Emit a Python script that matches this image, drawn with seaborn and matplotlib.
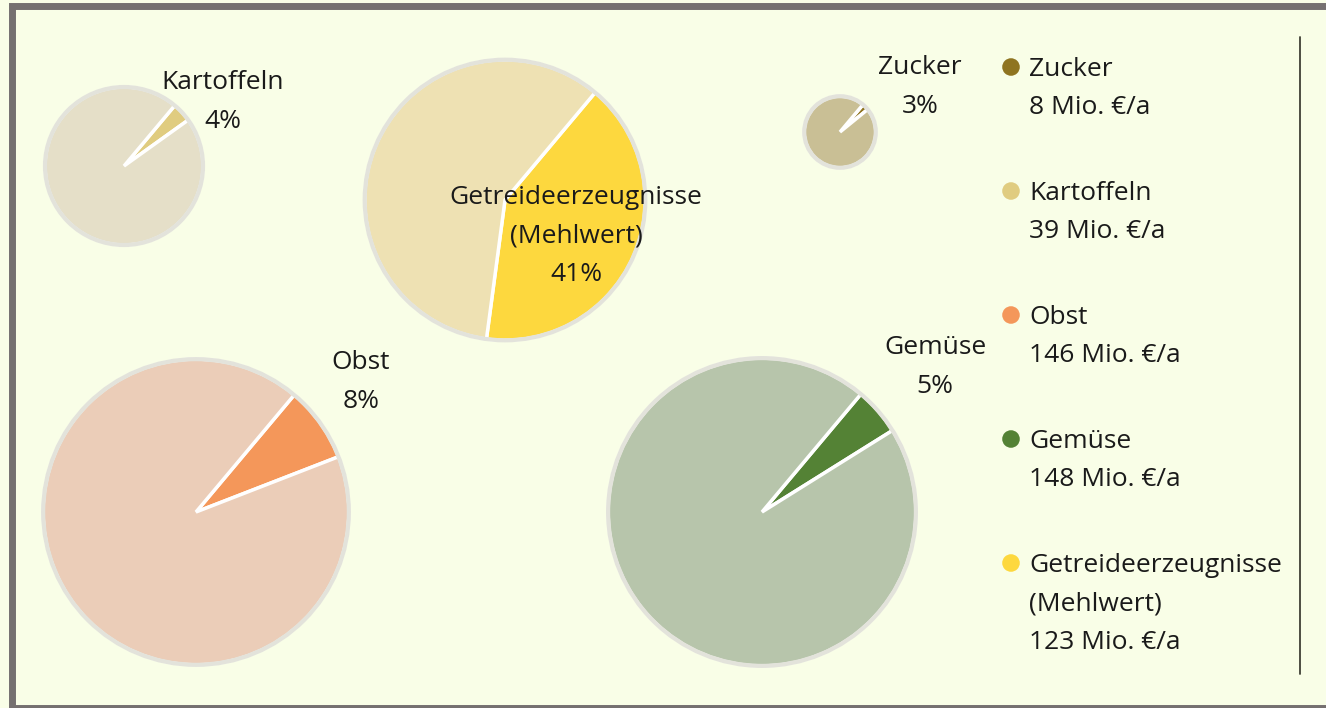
import numpy as np
import matplotlib.pyplot as plt
import seaborn as sns
from matplotlib.patches import Circle, Rectangle

# --- Data ---
categories = ["Zucker", "Kartoffeln", "Obst", "Gemüse", "Getreideerzeugnisse\n(Mehlwert)"]
shares = [3, 4, 8, 5, 41]            # share shown as wedge (%)
totals = [8, 39, 146, 148, 123]      # Mio. €/a, pie area

share_colors = ["#8f7420", "#e0cc80", "#f4975a", "#548235", "#fdd83e"]
rest_colors = ["#c9bf95", "#e5dfc8", "#ebcdb8", "#b7c5ab", "#eee1b3"]

# --- Layout (pixel coordinates, y from top) ---
W, H = 1326, 708
pie_centers = [(840, 132), (124, 166), (196, 512), (762, 512), (505, 200)]
label_pos = [(920, 87), (223, 102), (361, 382), (935, 367), (576, 236)]
scale = 12.65  # px per sqrt(Mio. €/a)

sns.set_theme(style="white")
plt.rcParams['font.family'] = ['Open Sans', 'DejaVu Sans']

FS = 19
LS = 1.7
bg = "#f9fee7"
fig = plt.figure(figsize=(W / 100, H / 100), dpi=100, facecolor=bg)
ax = fig.add_axes([0, 0, 1, 1])

for cat, sh, tot, c1, c2, (cx, cy), (lx, ly) in zip(
        categories, shares, totals, share_colors, rest_colors, pie_centers, label_pos):
    r = scale * np.sqrt(tot)
    center = (cx, H - cy)
    ax.pie([sh, 100 - sh], colors=[c1, c2], startangle=50, counterclock=False,
           center=center, radius=r, frame=True,
           wedgeprops=dict(edgecolor="white", linewidth=2.5))
    ax.add_patch(Circle(center, r, fill=False, edgecolor="#e3e3db", linewidth=3, zorder=3))
    ax.text(lx, H - ly, f"{cat}\n{sh}%", ha="center", va="center",
            fontsize=FS, color="#1a1a1a", linespacing=LS, zorder=5)

# --- Legend ---
leg_x, leg_y0, leg_step = 1011, 67, 124
for i, (cat, tot, c1) in enumerate(zip(categories, totals, share_colors)):
    y = H - (leg_y0 + i * leg_step)
    ax.scatter([leg_x], [y], s=160, color=c1, edgecolor="none", zorder=5)
    ax.text(leg_x + 18, y + 10, f"{cat}\n{tot} Mio. €/a", ha="left", va="top",
            fontsize=FS, color="#1a1a1a", linespacing=LS, zorder=5)

# vertical divider and frame
ax.plot([1299.5, 1299.5], [H - 37, H - 674], color="#3f4035", linewidth=1.3)
ax.add_patch(Rectangle((12, 0), 3000, H - 6, fill=False, edgecolor="#757070",
                       linewidth=5, zorder=6))

ax.set_xlim(0, W)
ax.set_ylim(0, H)
ax.set_facecolor(bg)
ax.axis("off")

fig.savefig("out.png", dpi=100, facecolor=bg)
